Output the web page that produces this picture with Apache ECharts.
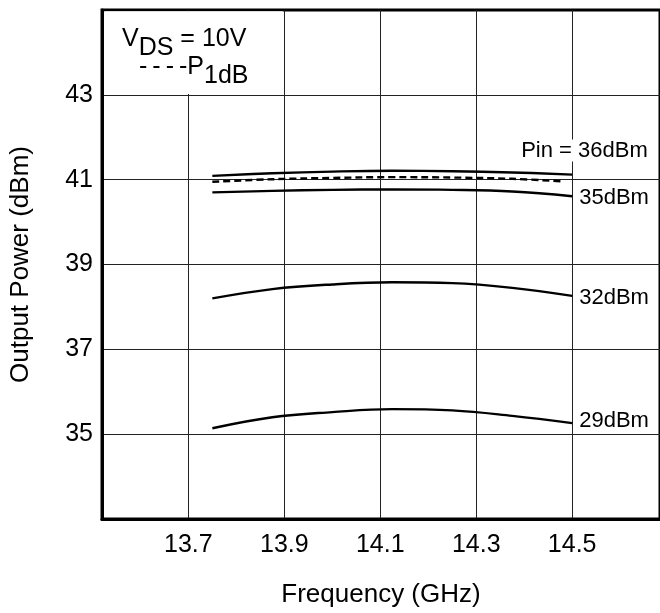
<!DOCTYPE html>
<html>
<head>
<meta charset="utf-8">
<script src="https://cdn.jsdelivr.net/npm/echarts@6/dist/echarts.min.js"></script>
<style>
  html, body { margin: 0; padding: 0; background: #fff; }
  #chart { width: 660px; height: 613px; }
</style>
</head>
<body>
<div id="chart"></div>
<script>
// frequency points (GHz)
const freq = [13.75, 13.875, 14.0, 14.125, 14.25, 14.375, 14.5];
const freqP1dB = [13.75, 13.875, 14.0, 14.125, 14.25, 14.375, 14.48];

// output power (dBm) for each input power
const pin36 = [41.09, 41.15, 41.19, 41.21, 41.20, 41.17, 41.12];
const p1dB = [40.95, 41.01, 41.04, 41.06, 41.05, 41.02, 40.96];
const pin35 = [40.70, 40.735, 40.76, 40.77, 40.76, 40.72, 40.61];
const pin32 = [38.20, 38.42, 38.53, 38.58, 38.56, 38.45, 38.26];
const pin29 = [35.14, 35.40, 35.52, 35.59, 35.56, 35.43, 35.26];

const xTicks = [13.7, 13.9, 14.1, 14.3, 14.5];
const yTicks = [35, 37, 39, 41, 43];

const FONT = 'Liberation Sans, Arial, Helvetica, sans-serif';

function pairs(xs, ys) {
    return xs.map((x, i) => [x, ys[i]]);
}

function endLabel(text, offset, extra) {
    return Object.assign({
        show: !!text,
        formatter: text,
        color: '#000',
        fontFamily: FONT,
        fontSize: 22,
        distance: 7,
        offset: offset
    }, extra || {});
}

function curve(name, xs, ys, label, extra) {
    return Object.assign({
        name: name,
        type: 'line',
        data: pairs(xs, ys),
        smooth: 0.4,
        symbol: 'none',
        lineStyle: { color: '#000', width: 2.4 },
        endLabel: endLabel(label, [0, 2])
    }, extra || {});
}

// legend text styles: normal and lowered (subscript) fragments
const legendRich = {
    n: { fontFamily: FONT, fontSize: 25, lineHeight: 25, verticalAlign: 'top', color: '#000' },
    s: { fontFamily: FONT, fontSize: 25, lineHeight: 43, color: '#000' }
};

const chart = echarts.init(document.getElementById('chart'));

chart.setOption({
    animation: false,
    backgroundColor: '#fff',
    textStyle: { fontFamily: FONT, color: '#000' },
    grid: {
        left: 102, right: 0, top: 10, bottom: 88,
        show: true, borderColor: '#000', borderWidth: 3
    },
    xAxis: {
        type: 'value',
        min: 13.52,
        max: 14.683,
        name: 'Frequency (GHz)',
        nameLocation: 'middle',
        nameGap: 63,
        nameTextStyle: { fontSize: 26, color: '#000', fontFamily: FONT },
        axisLine: { lineStyle: { color: '#000', width: 3 } },
        axisTick: { show: false, customValues: xTicks },
        axisLabel: {
            customValues: xTicks,
            formatter: v => v.toFixed(1),
            fontSize: 25, color: '#000', margin: 14
        },
        splitLine: { show: true, lineStyle: { color: '#222', width: 1 } }
    },
    yAxis: {
        type: 'value',
        min: 33,
        max: 45,
        name: 'Output Power (dBm)',
        nameLocation: 'middle',
        nameGap: 68,
        nameTextStyle: { fontSize: 26, color: '#000', fontFamily: FONT },
        axisLine: { show: true, lineStyle: { color: '#000', width: 3 } },
        axisTick: { show: false, customValues: yTicks },
        axisLabel: {
            customValues: yTicks,
            fontSize: 25, color: '#000', margin: 9
        },
        splitLine: { show: true, lineStyle: { color: '#222', width: 1 } }
    },
    graphic: [
        {
            type: 'text', left: 122, top: 27, z: 100,
            style: { text: '{n|V}{s|DS}{n| = 10V}', rich: legendRich }
        },
        {
            type: 'text', left: 139, top: 55, z: 100,
            style: { text: '{n|-\u2009-\u2009-\u2009-P}{s|1dB}', rich: legendRich }
        }
    ],
    series: [
        curve('P1dB', freqP1dB, p1dB, null, {
            lineStyle: { color: '#000', width: 2.4, type: [7, 4] },
            markArea: {
                silent: true,
                itemStyle: { color: '#fff' },
                data: [[{ coord: [13.525, 44.97] }, { coord: [13.897, 43.02] }]]
            }
        }),
        curve('Pin 36dBm', freq, pin36, null, {
            endLabel: endLabel('Pin = 36dBm', [-58, -24], { backgroundColor: '#fff' })
        }),
        curve('Pin 35dBm', freq, pin35, '35dBm'),
        curve('Pin 32dBm', freq, pin32, '32dBm'),
        curve('Pin 29dBm', freq, pin29, null, {
            endLabel: endLabel('29dBm', [0, -2])
        })
    ]
});

window.addEventListener('resize', () => chart.resize());
</script>
</body>
</html>
